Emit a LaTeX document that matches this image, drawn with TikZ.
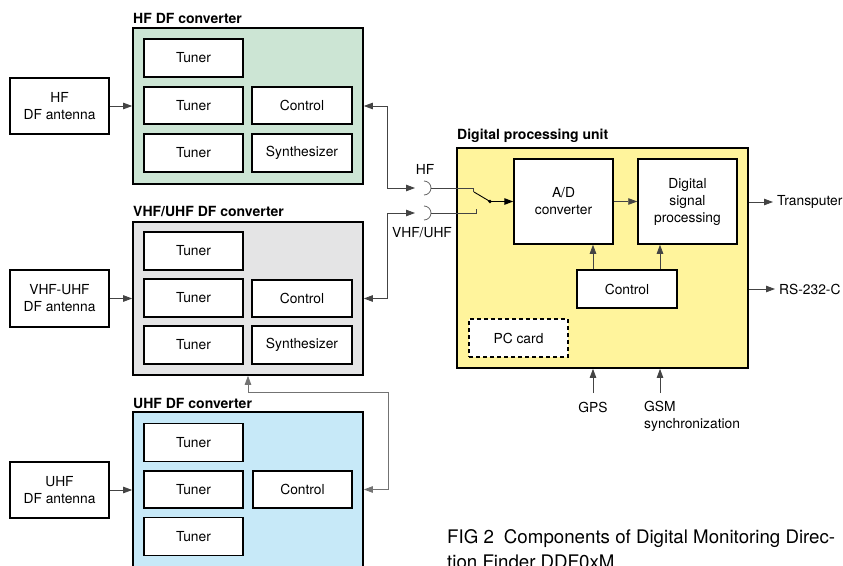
\documentclass[tikz,border=0pt]{standalone}
\usepackage{fontspec}
\setmainfont{TeX Gyre Heros}
\usetikzlibrary{arrows.meta}
\definecolor{hfgreen}{HTML}{CCE5D4}
\definecolor{vgray}{HTML}{E4E4E5}
\definecolor{ublue}{HTML}{C7E9F8}
\definecolor{dyellow}{HTML}{FFF49C}
\definecolor{lin}{HTML}{444444}
\begin{document}
\begin{tikzpicture}[x=1pt,y=-1pt,
  lbl/.style={font=\fontsize{13.8}{17}\selectfont},
  box/.style={draw=black,line width=1.5pt,fill=white,inner sep=0pt,align=center,lbl},
  tunerbox/.style={box,minimum width=99pt,minimum height=38pt},
  ctrlbox/.style={box,minimum width=100pt,minimum height=38pt},
  antbox/.style={box,minimum width=99pt,minimum height=56pt},
  group/.style={draw=black,line width=1.7pt,inner sep=0pt,minimum width=230pt},
  ttl/.style={font=\fontsize{14}{17}\selectfont\bfseries,anchor=west,inner sep=0pt},
  arr/.style={draw=lin,line width=0.8pt,-{Triangle[length=9pt,width=6.5pt]}},
  biarr/.style={draw=lin,line width=0.8pt,{Triangle[length=9pt,width=6.5pt]}-{Triangle[length=9pt,width=6.5pt]}},
  thin/.style={draw=lin,line width=0.8pt}]
\fill[white] (0,0) rectangle (843,565);
\useasboundingbox (0,0) rectangle (843,565);

% ---------- HF DF converter ----------
\node[group,fill=hfgreen,minimum height=156pt] (hfbox) at (248,106) {};
\node[ttl] (hfttl) at (133,18) {HF DF converter};
\node[tunerbox] (hft1) at (193.5,58) {Tuner};
\node[tunerbox,minimum height=37pt] (hft2) at (193.5,105.5) {Tuner};
\node[ctrlbox,minimum height=37pt] (hfc) at (302,105.5) {Control};
\node[tunerbox] (hft3) at (193.5,153) {Tuner};
\node[ctrlbox] (hfs) at (302,153) {Synthesizer};
\node[antbox] (hfant) at (59.5,106) {HF\\DF antenna};
\draw[arr] (hfant.east) -- (hfbox.west);

% ---------- VHF/UHF DF converter ----------
\node[group,fill=vgray,minimum height=153pt] (vbox) at (248,298.5) {};
\node[ttl] (vttl) at (133,211) {VHF/UHF DF converter};
\node[tunerbox] (vt1) at (193.5,251) {Tuner};
\node[tunerbox] (vt2) at (193.5,298) {Tuner};
\node[ctrlbox,minimum height=37pt] (vc) at (302,298.5) {Control};
\node[tunerbox] (vt3) at (193.5,345) {Tuner};
\node[ctrlbox] (vs) at (302,345) {Synthesizer};
\node[antbox,minimum height=57pt] (vant) at (59.5,298.5) {VHF-UHF\\DF antenna};
\draw[arr] (vant.east) -- (vbox.west);

% ---------- UHF DF converter ----------
\node[group,fill=ublue,minimum height=188pt] (ubox) at (248,506) {};
\node[ttl] (uttl) at (133,403) {UHF DF converter};
\node[tunerbox] (ut1) at (193.5,442.5) {Tuner};
\node[tunerbox,minimum height=37pt] (ut2) at (193.5,489.5) {Tuner};
\node[ctrlbox,minimum height=37pt,minimum width=99pt] (uc) at (302.5,489.5) {Control};
\node[tunerbox] (ut3) at (193.5,536.5) {Tuner};
\node[antbox] (uant) at (59.5,490) {UHF\\DF antenna};
\draw[arr] (uant.east) -- (uant.east -| ubox.west);

% ---------- Digital processing unit ----------
\node[draw=black,line width=1.7pt,fill=dyellow,inner sep=0pt,minimum width=291pt,minimum height=220pt] (dpu) at (602.5,258) {};
\node[ttl] (dttl) at (457,136) {Digital processing unit};
\node[box,minimum width=99pt,minimum height=85pt] (ad) at (563.5,201.5) {A/D\\converter};
\node[box,minimum width=99pt,minimum height=85pt] (dsp) at (687.5,201.5) {Digital\\signal\\processing};
\node[ctrlbox] (dc) at (627,289) {Control};
\node[box,dashed,dash pattern=on 4pt off 3pt,minimum width=99pt,minimum height=38pt] (pc) at (518.5,338) {PC card};
\draw[arr] (ad.east) -- (dsp.west);
\draw[arr] ([xshift=-34pt]dc.north) -- ([xshift=-34pt]dc.north |- ad.south);
\draw[arr] ([xshift=33pt]dc.north) -- ([xshift=33pt]dc.north |- dsp.south);

% outputs
\node[lbl,anchor=west,inner sep=4pt] (tp) at (773,202) {Transputer};
\draw[arr] (tp.west -| dpu.east) -- (tp.west);
\node[lbl,anchor=west,inner sep=4pt] (rs) at (775,289) {RS-232-C};
\draw[arr] (rs.west -| dpu.east) -- (rs.west);

% inputs from below
\coordinate (gpsin) at (593,393);
\coordinate (gsmin) at (660,393);
\node[lbl,anchor=base] (gps) at (593,412) {GPS};
\node[lbl,anchor=base west,align=left,inner sep=0pt] (gsm) at (644,428) {GSM\\synchronization};
\draw[arr] (gpsin) -- (gpsin |- dpu.south);
\draw[arr] (gsmin) -- (gsmin |- dpu.south);

% ---------- switch / jacks ----------
\coordinate (hfin) at (415,188);
\coordinate (vin) at (415,213);
\coordinate (hfjack) at (424,181);
\coordinate (vjack) at (424,206);
\node[lbl,inner sep=0pt] (hflbl) at (425,169) {HF};
\node[lbl,inner sep=0pt] (vlbl) at (422,233) {VHF/UHF};
\draw[thin,draw=black!60] (hfjack) arc[start angle=-90,end angle=90,radius=7];
\draw[thin,draw=black!60] (vjack) arc[start angle=-90,end angle=90,radius=7];
\draw[thin] (431,188) -- (473,188) -- (473,192);
\draw[thin] (431,213) -- (476,213) -- (476,209);
\draw[line width=0.9pt] (474,192) -- (490,201.5);
\fill (490,201.5) circle[radius=1.8];
\draw[arr,draw=black,line width=1.3pt] (490,201.5) -- (ad.west);

% converter connections
\draw[biarr] (hfbox.east) -| (387,188) -- (hfin);
\draw[biarr] (vbox.east) -| (387,213) -- (vin);
\draw[biarr,draw=black!55] (vbox.south) |- (388,392) |- (uc.east -| ubox.east);

% caption
\node[anchor=base west,align=left,inner sep=0pt,font=\fontsize{18.7}{25}\selectfont] (cap) at (447,568)
  {FIG 2\hspace{10pt}Components of Digital Monitoring Direc-\\tion Finder DDF0xM};
\end{tikzpicture}
\end{document}
